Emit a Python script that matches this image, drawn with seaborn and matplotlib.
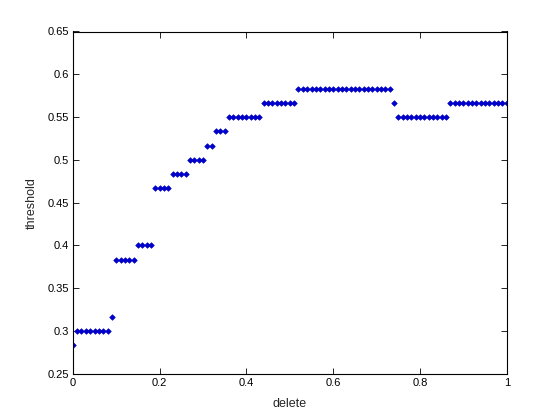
import numpy as np
import pandas as pd
import matplotlib
matplotlib.use("Agg")
import matplotlib.pyplot as plt
import seaborn as sns
from matplotlib.ticker import FuncFormatter

# data: delete fraction (0..1 step 0.01) and threshold levels (multiples of 1/60)
delete = [i / 100 for i in range(101)]
level_units = [17] + [18]*8 + [19] + [23]*5 + [24]*4 + [28]*4 + [29]*4 + [30]*4 \
    + [31]*2 + [32]*3 + [33]*8 + [34]*8 + [35]*22 + [34] + [33]*12 + [34]*14
threshold = [u / 60 for u in level_units]

x_ticks = [0, 0.2, 0.4, 0.6, 0.8, 1]
y_ticks = [0.25, 0.3, 0.35, 0.4, 0.45, 0.5, 0.55, 0.6, 0.65]

df = pd.DataFrame({"delete": delete, "threshold": threshold})

sns.set_theme(style="ticks")
plt.rcParams['font.family'] = ['Liberation Sans', 'DejaVu Sans']

fig = plt.figure(figsize=(5.6, 4.2), dpi=100, facecolor="white")
ax = fig.add_axes([0.13, 0.11, 0.775, 0.815])
sns.scatterplot(data=df, x="delete", y="threshold", ax=ax, marker="D", s=8,
                color="#0000C8", edgecolor="#0000C8", linewidth=0.5)

ax.set_xlim(0, 1)
ax.set_ylim(0.25, 0.65)
ax.set_xticks(x_ticks)
ax.set_yticks(y_ticks)
fmt = FuncFormatter(lambda v, p: ("%g" % round(v, 4)))
ax.xaxis.set_major_formatter(fmt)
ax.yaxis.set_major_formatter(fmt)
ax.tick_params(direction="in", length=4, width=0.6, labelsize=8, colors="black",
               top=True, right=True, pad=3)
for s in ax.spines.values():
    s.set_visible(True)
    s.set_linewidth(0.8)
    s.set_color("black")
ax.set_xlabel("delete", fontsize=9, labelpad=7)
ax.set_ylabel("threshold", fontsize=9, labelpad=7)
ax.set_facecolor("white")

fig.savefig("out.png", dpi=100, facecolor="white")
